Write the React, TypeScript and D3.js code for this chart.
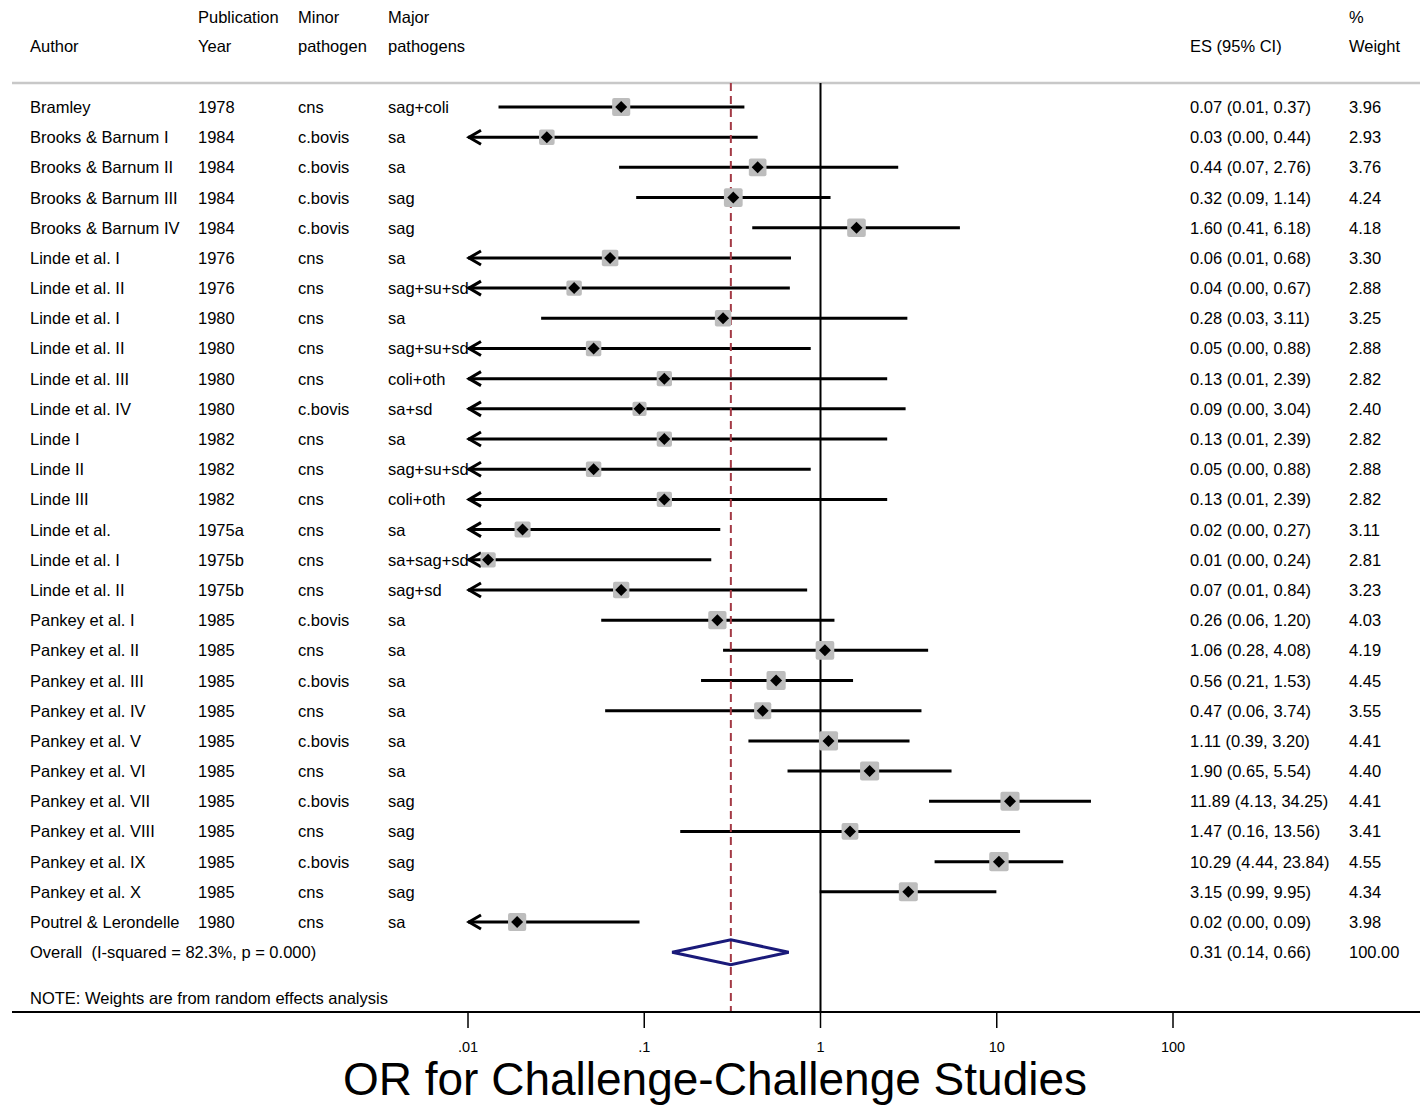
import React from "react";
import * as d3 from "d3";

const authors = [
  "Bramley", "Brooks & Barnum I", "Brooks & Barnum II", "Brooks & Barnum III", "Brooks & Barnum IV",
  "Linde et al. I", "Linde et al. II", "Linde et al. I", "Linde et al. II", "Linde et al. III",
  "Linde et al. IV", "Linde I", "Linde II", "Linde III", "Linde et al.", "Linde et al. I",
  "Linde et al. II", "Pankey et al. I", "Pankey et al. II", "Pankey et al. III", "Pankey et al. IV",
  "Pankey et al. V", "Pankey et al. VI", "Pankey et al. VII", "Pankey et al. VIII", "Pankey et al. IX",
  "Pankey et al. X", "Poutrel & Lerondelle",
];
const years = [
  "1978", "1984", "1984", "1984", "1984", "1976", "1976", "1980", "1980", "1980", "1980", "1982",
  "1982", "1982", "1975a", "1975b", "1975b", "1985", "1985", "1985", "1985", "1985", "1985", "1985",
  "1985", "1985", "1985", "1980",
];
const minorPathogen = [
  "cns", "c.bovis", "c.bovis", "c.bovis", "c.bovis", "cns", "cns", "cns", "cns", "cns", "c.bovis",
  "cns", "cns", "cns", "cns", "cns", "cns", "c.bovis", "cns", "c.bovis", "cns", "c.bovis", "cns",
  "c.bovis", "cns", "c.bovis", "cns", "cns",
];
const majorPathogens = [
  "sag+coli", "sa", "sa", "sag", "sag", "sa", "sag+su+sd", "sa", "sag+su+sd", "coli+oth", "sa+sd",
  "sa", "sag+su+sd", "coli+oth", "sa", "sa+sag+sd", "sag+sd", "sa", "sa", "sa", "sa", "sa", "sa",
  "sag", "sag", "sag", "sag", "sa",
];
const esValues = [
  0.074, 0.028, 0.44, 0.32, 1.6, 0.064, 0.04, 0.28, 0.0516, 0.13, 0.094, 0.13, 0.0516, 0.13, 0.0204,
  0.013, 0.074, 0.26, 1.06, 0.56, 0.47, 1.11, 1.9, 11.89, 1.47, 10.29, 3.15, 0.019,
];
const ciLower = [
  0.0149, 0.002, 0.072, 0.09, 0.41, 0.008, 0.003, 0.026, 0.002, 0.007, 0.003, 0.007, 0.002, 0.007,
  0.001, 0.001, 0.006, 0.057, 0.28, 0.21, 0.06, 0.39, 0.65, 4.13, 0.16, 4.44, 0.99, 0.004,
];
const ciUpper = [
  0.37, 0.44, 2.76, 1.14, 6.18, 0.68, 0.67, 3.11, 0.88, 2.39, 3.04, 2.39, 0.88, 2.39, 0.27, 0.24,
  0.84, 1.2, 4.08, 1.53, 3.74, 3.2, 5.54, 34.25, 13.56, 23.84, 9.95, 0.094,
];
const weights = [
  "3.96", "2.93", "3.76", "4.24", "4.18", "3.30", "2.88", "3.25", "2.88", "2.82", "2.40", "2.82",
  "2.88", "2.82", "3.11", "2.81", "3.23", "4.03", "4.19", "4.45", "3.55", "4.41", "4.40", "4.41",
  "3.41", "4.55", "4.34", "3.98",
];
const overallES = 0.31;
const overallLower = 0.144;
const overallUpper = 0.66;
const overallLabel = "Overall  (I-squared = 82.3%, p = 0.000)";
const overallWeight = "100.00";
const tickValues = [0.01, 0.1, 1, 10, 100];
const tickLabels = [".01", ".1", "1", "10", "100"];

const FONT = "'Liberation Sans', Arial, Helvetica, sans-serif";
const fmt = d3.format(".2f");

export default function App() {
  const W = 1420, H = 1105;
  const x = d3.scaleLog().domain([0.01, 100]).range([468, 1173]);
  const rowY = d3.scaleLinear().domain([0, 27]).range([107, 922]);
  const xMin = 0.01;
  const topY = 83;
  const axisY = 1012;
  const colAuthor = 30, colYear = 198, colMinor = 298, colMajor = 388, colES = 1190, colW = 1349;
  const fs = 16.5;
  const sq = (w: number) => 9.1 * Math.sqrt(w);
  const overallRow = rowY(28);

  return (
    <svg width={W} height={H} style={{ position: "absolute", left: 0, top: 0, background: "#fff" }} fontFamily={FONT}>
      <rect x={0} y={0} width={W} height={H} fill="#fff" />
      {/* headers */}
      <g fontSize={fs} fill="#000">
        <text x={colYear} y={22.5}>Publication</text>
        <text x={colMinor} y={22.5}>Minor</text>
        <text x={colMajor} y={22.5}>Major</text>
        <text x={colW} y={22.5}>%</text>
        <text x={colAuthor} y={52}>Author</text>
        <text x={colYear} y={52}>Year</text>
        <text x={colMinor} y={52}>pathogen</text>
        <text x={colMajor} y={52}>pathogens</text>
        <text x={colES} y={52}>ES (95% CI)</text>
        <text x={colW} y={52}>Weight</text>
      </g>
      <line x1={12} x2={W} y1={topY} y2={topY} stroke="#c8c8c8" strokeWidth={2.5} />
      {/* null line */}
      <line x1={x(1)} x2={x(1)} y1={topY} y2={axisY} stroke="#000" strokeWidth={2} />
      {/* CI lines */}
      <g stroke="#000" strokeWidth={3} fill="none">
        {esValues.map((_, i) => {
          const y = rowY(i);
          const lo = ciLower[i];
          const clipped = lo < xMin;
          const x1 = x(Math.max(lo, xMin));
          const x2 = x(ciUpper[i]);
          return (
            <g key={i}>
              <line x1={x1} x2={x2} y1={y} y2={y} />
              {clipped && (
                <path d={`M${x1 + 13},${y - 7} L${x1 + 1},${y} L${x1 + 13},${y + 7}`} strokeWidth={3} strokeLinejoin="miter" />
              )}
            </g>
          );
        })}
      </g>
      {/* overall dashed line */}
      <line x1={x(overallES)} x2={x(overallES)} y1={topY} y2={axisY} stroke="#a33a45" strokeWidth={2} strokeDasharray="8,5" />
      {/* weight squares and point markers */}
      {esValues.map((v, i) => {
        const y = rowY(i);
        const s = sq(+weights[i]);
        const cx = x(v);
        return (
          <g key={i}>
            <rect x={cx - s / 2} y={y - s / 2} width={s} height={s} rx={2} fill="#bdbdbd" />
            <path d={`M${cx - 6},${y} L${cx},${y - 6} L${cx + 6},${y} L${cx},${y + 6} Z`} fill="#000" />
          </g>
        );
      })}
      {/* overall diamond */}
      <path
        d={`M${x(overallLower)},${overallRow} L${x(overallES)},${overallRow - 12.5} L${x(overallUpper)},${overallRow} L${x(overallES)},${overallRow + 12.5} Z`}
        fill="none"
        stroke="#1a1a7a"
        strokeWidth={3}
      />
      {/* row texts */}
      <g fontSize={fs} fill="#000">
        {authors.map((a, i) => {
          const y = rowY(i) + 6;
          return (
            <g key={i}>
              <text x={colAuthor} y={y}>{a}</text>
              <text x={colYear} y={y}>{years[i]}</text>
              <text x={colMinor} y={y}>{minorPathogen[i]}</text>
              <text x={colMajor} y={y}>{majorPathogens[i]}</text>
              <text x={colES} y={y}>{`${fmt(esValues[i])} (${fmt(ciLower[i])}, ${fmt(ciUpper[i])})`}</text>
              <text x={colW} y={y}>{weights[i]}</text>
            </g>
          );
        })}
        <text x={colAuthor} y={overallRow + 6} style={{ whiteSpace: "pre" }}>{overallLabel}</text>
        <text x={colES} y={overallRow + 6}>{`${fmt(overallES)} (${fmt(overallLower)}, ${fmt(overallUpper)})`}</text>
        <text x={colW} y={overallRow + 6}>{overallWeight}</text>
        <text x={colAuthor} y={1004}>NOTE: Weights are from random effects analysis</text>
      </g>
      {/* axis */}
      <line x1={12} x2={W} y1={axisY} y2={axisY} stroke="#000" strokeWidth={2} />
      {tickValues.map((t, i) => (
        <g key={t}>
          <line x1={x(t)} x2={x(t)} y1={axisY} y2={axisY + 16} stroke="#000" strokeWidth={1.5} />
          <text x={x(t)} y={1052} fontSize={14.5} textAnchor="middle" fill="#000">{tickLabels[i]}</text>
        </g>
      ))}
      <text x={715} y={1095} fontSize={46} textAnchor="middle" fill="#000">OR for Challenge-Challenge Studies</text>
    </svg>
  );
}
